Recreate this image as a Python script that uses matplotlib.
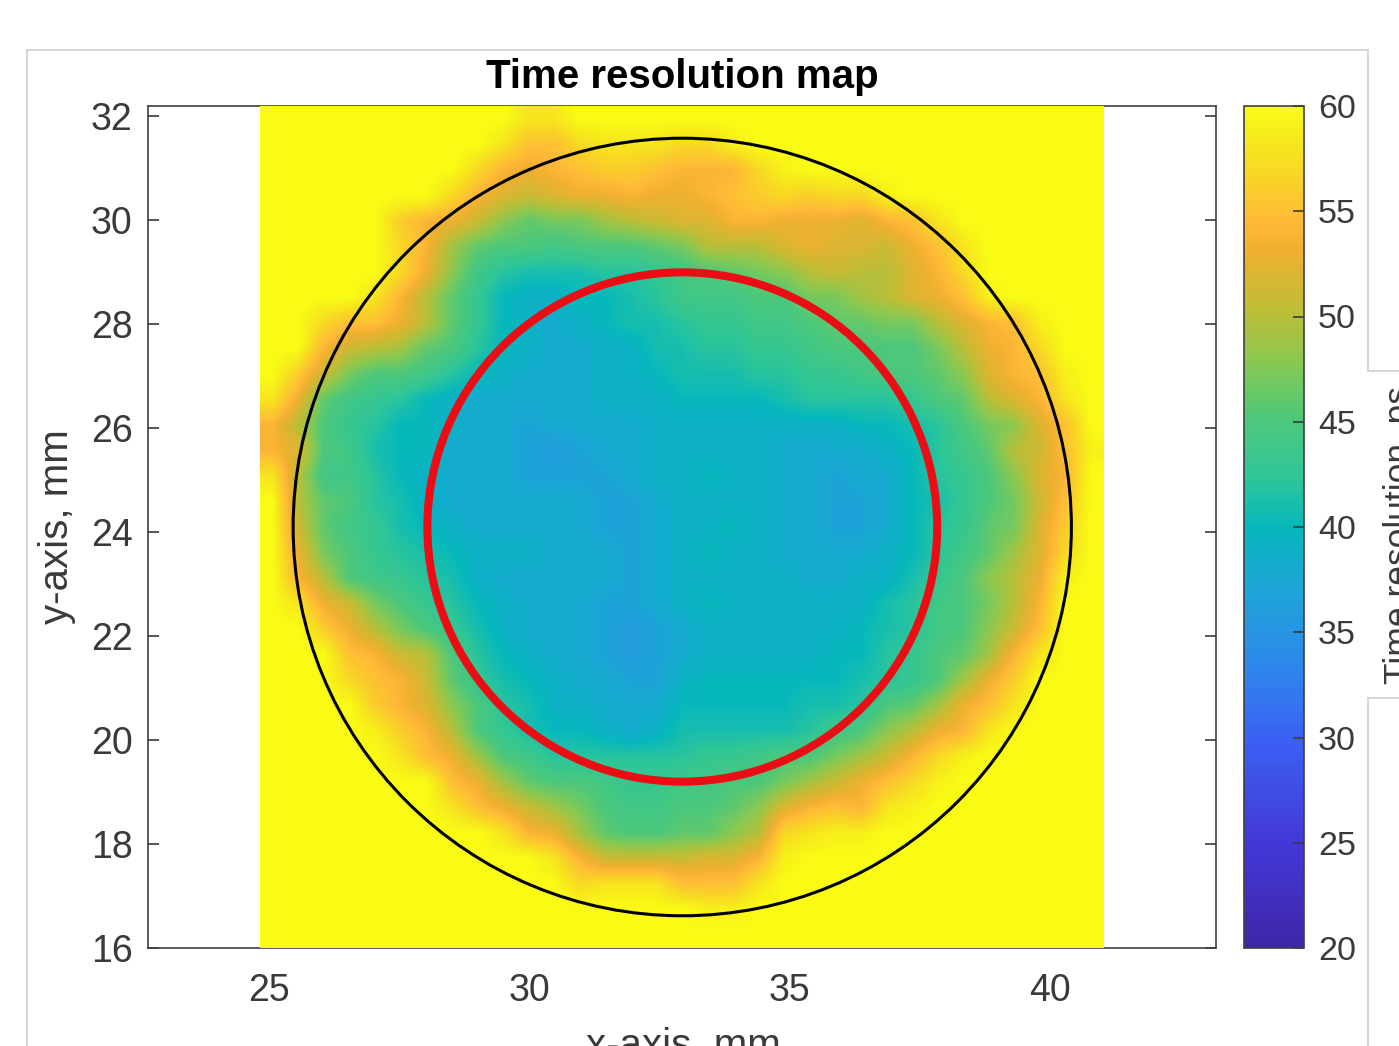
import matplotlib
matplotlib.use("Agg")
import matplotlib.pyplot as plt
import numpy as np
from matplotlib.colors import LinearSegmentedColormap
from matplotlib.lines import Line2D
from matplotlib.patches import Circle

plt.rcParams['font.family'] = ['Liberation Sans', 'DejaVu Sans']

# time resolution in ps, one row per 0.5 mm, top row first
row_00 = [60,60,60,60,60,60,60,60,60,60,58,58,60,60,60,60,60,60,60,60,60,60,60,60,60,60,60,60,60,60,60,60,60]
row_01 = [60,60,60,60,60,60,60,60,60,58,55,55,57,58,58,58,57,57,59,60,60,60,60,60,60,60,60,60,60,60,60,60,60]
row_02 = [60,60,60,60,60,60,60,60,57,54,53,54,55,56,56,55,54,54,54,57,59,60,60,60,60,60,60,60,60,60,60,60,60]
row_03 = [60,60,60,60,60,60,60,57,54,52,51,52,53,53,54,53,53,54,55,56,57,56,57,57,59,60,60,60,60,60,60,60,60]
row_04 = [60,60,60,60,60,56,54,53,51,48,46,47,47,49,50,51,52,52,54,54,53,53,53,52,54,55,58,60,60,60,60,60,60]
row_05 = [60,60,60,60,60,57,54,49,46,45,45,44,45,45,45,46,47,50,50,50,52,53,52,52,51,53,55,58,60,60,60,60,60]
row_06 = [60,60,60,60,60,57,53,48,44,42,41,41,41,42,42,43,44,45,46,47,48,50,51,50,50,52,54,57,60,60,60,60,60]
row_07 = [60,60,60,60,58,54,50,46,43,40,39,39,40,40,41,42,44,44,44,45,45,47,47,49,50,52,53,55,59,60,60,60,60]
row_08 = [60,60,57,55,55,53,50,46,43,40,39,38,39,40,41,41,42,43,43,44,44,45,46,46,47,47,50,52,54,55,59,60,60]
row_09 = [60,60,54,51,50,49,46,45,42,40,39,38,38,39,39,41,41,42,42,43,43,44,45,45,45,45,47,50,53,54,57,60,60]
row_10 = [60,56,51,47,45,45,44,42,40,39,38,38,38,39,39,40,41,41,41,42,42,43,43,44,45,45,46,48,52,54,55,59,60]
row_11 = [58,53,46,44,43,42,40,39,38,38,38,38,38,39,39,39,40,40,40,40,41,42,42,42,42,43,45,46,50,52,54,58,60]
row_12 = [54,50,45,43,42,40,40,39,38,38,37,38,38,38,38,39,39,39,39,39,39,39,39,40,40,41,42,45,47,48,52,55,60]
row_13 = [54,52,45,44,41,40,40,38,38,38,37,36,37,38,38,39,39,39,39,39,38,38,38,38,39,40,42,44,46,50,51,55,59]
row_14 = [58,50,44,44,42,40,39,38,38,38,37,37,37,37,38,39,39,40,39,39,38,38,37,38,38,40,42,43,45,48,52,54,60]
row_15 = [60,50,46,45,42,41,39,38,38,38,38,38,38,37,37,38,39,39,39,39,38,38,37,37,38,40,41,43,45,47,51,55,60]
row_16 = [60,51,46,44,43,41,40,39,38,38,38,38,38,37,37,38,39,39,40,39,38,38,37,37,38,40,42,43,46,47,52,56,60]
row_17 = [60,53,47,45,43,42,41,40,39,39,39,38,38,38,37,38,39,40,39,39,38,38,38,38,39,40,42,44,46,49,52,57,60]
row_18 = [60,54,50,45,44,43,42,41,39,38,38,38,38,38,37,38,39,39,39,39,39,38,38,39,39,41,43,45,48,50,53,59,60]
row_19 = [60,58,53,51,47,45,43,42,40,39,38,38,38,37,37,38,39,40,39,39,39,39,39,39,41,42,44,45,47,50,54,60,60]
row_20 = [60,60,56,53,50,47,45,43,41,39,38,38,38,37,36,37,38,39,39,39,39,39,39,40,41,42,44,45,48,51,55,60,60]
row_21 = [60,60,60,55,54,51,50,45,42,40,39,38,38,37,36,37,38,39,39,39,39,39,40,40,42,43,45,46,49,54,58,60,60]
row_22 = [60,60,60,57,55,54,51,46,43,41,40,39,38,38,37,37,39,40,40,40,40,40,40,41,42,43,45,49,53,56,60,60,60]
row_23 = [60,60,60,60,56,54,52,48,45,42,41,39,39,38,38,38,40,40,40,40,40,41,41,42,45,46,49,53,55,58,60,60,60]
row_24 = [60,60,60,60,59,56,54,50,45,43,41,40,40,39,38,39,41,41,41,41,41,42,44,45,48,50,53,54,58,60,60,60,60]
row_25 = [60,60,60,60,60,58,55,53,49,45,44,42,42,42,42,42,42,43,43,44,45,45,47,49,51,54,57,59,60,60,60,60,60]
row_26 = [60,60,60,60,60,60,60,55,53,49,46,45,45,44,43,43,44,44,45,45,47,49,51,53,55,57,59,60,60,60,60,60,60]
row_27 = [60,60,60,60,60,60,60,58,55,53,51,49,47,45,44,44,45,45,46,48,52,54,55,54,58,59,60,60,60,60,60,60,60]
row_28 = [60,60,60,60,60,60,60,60,60,58,54,53,49,46,45,45,46,46,48,50,57,58,59,59,60,60,60,60,60,60,60,60,60]
row_29 = [60,60,60,60,60,60,60,60,60,60,60,58,54,51,51,51,51,52,52,54,59,60,60,60,60,60,60,60,60,60,60,60,60]
row_30 = [60,60,60,60,60,60,60,60,60,60,60,60,57,58,58,58,55,55,55,58,60,60,60,60,60,60,60,60,60,60,60,60,60]
row_31 = [60,60,60,60,60,60,60,60,60,60,60,60,60,60,60,60,60,59,59,60,60,60,60,60,60,60,60,60,60,60,60,60,60]
row_32 = [60]*33

rows = [row_00, row_01, row_02, row_03, row_04, row_05, row_06, row_07, row_08, row_09, row_10,
        row_11, row_12, row_13, row_14, row_15, row_16, row_17, row_18, row_19, row_20, row_21,
        row_22, row_23, row_24, row_25, row_26, row_27, row_28, row_29, row_30, row_31, row_32]

x_ticks = [25, 30, 35, 40]
y_ticks = [16, 18, 20, 22, 24, 26, 28, 30, 32]
cbar_ticks = [20, 25, 30, 35, 40, 45, 50, 55, 60]

# colour bar stops
cmap_stops = ['#3e26a8', '#4338d8', '#3a62f4', '#2e86ec', '#1fa3da', '#06b8bc', '#2fc698',
              '#4ec87a', '#8cc850', '#c0bd36', '#f0b030', '#ffb838', '#f7e020', '#f9fb15']
cmap_pos = [0, 0.125, 0.25, 0.33, 0.42, 0.5, 0.56, 0.63, 0.70, 0.76, 0.83, 0.86, 0.94, 1]
parula = LinearSegmentedColormap.from_list('parula_like', list(zip(cmap_pos, cmap_stops)))

W, H = 1399, 1046
text_col = '#3a3a3a'
fig = plt.figure(figsize=(W / 100, H / 100), dpi=100)

ax = fig.add_axes([148 / W, 1 - 948 / H, 1068 / W, 842 / H])
im = ax.imshow(np.array(rows), cmap=parula, vmin=20, vmax=60, extent=(24.83, 41.04, 16, 32.2),
               aspect='auto', interpolation='bilinear', zorder=3)
ax.set_xlim(22.67, 43.2)
ax.set_ylim(16, 32.2)
ax.set_xticks(x_ticks)
ax.set_yticks(y_ticks)
ax.tick_params(axis='y', direction='in', length=8, width=1.2, right=True, labelsize=27,
               colors=text_col, pad=11)
ax.tick_params(axis='x', length=0, labelsize=27, colors=text_col, pad=18)
for s in ax.spines.values():
    s.set_linewidth(1.2)
    s.set_color('#404040')
ax.set_title('Time resolution map', fontsize=29, fontweight='bold', color='black', pad=13)

# detector outline and central zone
ax.add_patch(Circle((32.94, 24.1), 7.48, fill=False, edgecolor='black', linewidth=2.2, zorder=4))
ax.add_patch(Circle((32.94, 24.1), 4.9, fill=False, edgecolor='#ec0c14', linewidth=5.8, zorder=5))

cax = fig.add_axes([1244 / W, 1 - 948 / H, 60 / W, 842 / H])
cb = fig.colorbar(im, cax=cax)
cb.set_ticks(cbar_ticks)
cb.ax.tick_params(direction='in', length=8, width=1.2, labelsize=24.5, colors=text_col, pad=10)
cb.outline.set_linewidth(1.2)
cb.outline.set_edgecolor('#404040')

fig.text(57 / W, 1 - 527 / H, 'y-axis, mm', fontsize=29, color=text_col, rotation=90,
         ha='center', va='center')
fig.text(683 / W, 1 - 1046 / H, 'x-axis, mm', fontsize=29, color=text_col, ha='center', va='center')
fig.text(1399 / W, 1 - 535 / H, 'Time resolution, ps', fontsize=25.5, color=text_col, rotation=90,
         ha='center', va='center')

# light frame of the pasted screenshot
frame_col = '#cfcfcf'
frame_x = [[27, 27], [27, 1368], [1368, 1368], [1368, 1399], [1368, 1399], [1368, 1368]]
frame_y = [[50, 1046], [50, 50], [50, 371], [371, 371], [698, 698], [698, 1046]]
for fx, fy in zip(frame_x, frame_y):
    fig.add_artist(Line2D([v / W for v in fx], [1 - v / H for v in fy], color=frame_col, linewidth=1.2))

fig.savefig('out.png', dpi=100, facecolor='white')
